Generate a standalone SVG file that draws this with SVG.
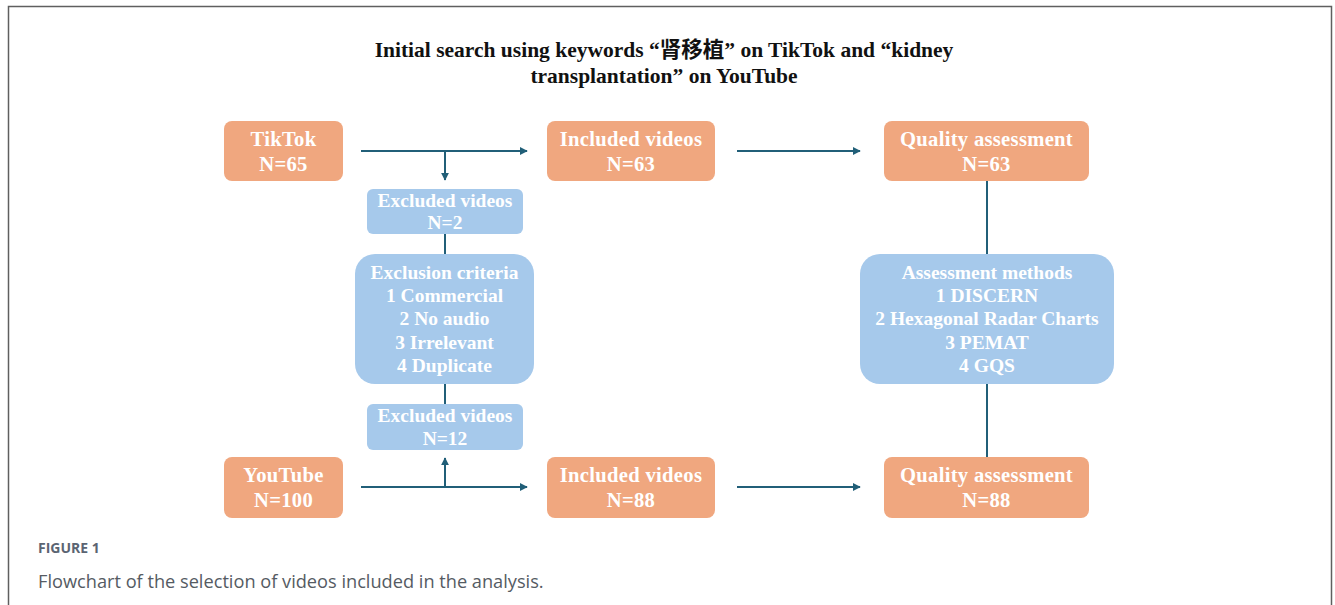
<svg xmlns="http://www.w3.org/2000/svg" width="1335" height="605" viewBox="0 0 1335 605">
  <defs>
    <style>
      .frame { fill: none; stroke: #5f5f5f; stroke-width: 1.5; }
      .src { fill: #f0a77f; }
      .exc { fill: #a6c9eb; }
      .lbl { font-family: "Liberation Serif", "Times New Roman", serif; font-weight: bold; font-size: 20.6px; letter-spacing: 0.3px; fill: #ffffff; text-anchor: middle; }
      .exc-lbl { font-size: 19.5px; letter-spacing: 0; }
      .title { font-family: "Liberation Serif", "Noto Sans CJK SC", serif; font-weight: bold; font-size: 21.5px; fill: #111111; text-anchor: middle; }
      .edge { fill: none; stroke: #215f78; stroke-width: 2; }
      .cap-head { font-family: "Open Sans", "Liberation Sans", sans-serif; font-weight: bold; font-size: 14px; fill: #5b6472; }
      .cap { font-family: "Open Sans", "Liberation Sans", sans-serif; font-size: 18.2px; fill: #555b63; }
    </style>
    <marker id="arrow" viewBox="0 0 10 10" refX="9" refY="5" markerWidth="4" markerHeight="4" orient="auto" markerUnits="strokeWidth">
      <path d="M0,0 L10,5 L0,10 z" fill="#215f78"/>
    </marker>
  </defs>

  <rect width="1335" height="605" fill="#ffffff"/>
  <!-- figure frame (open at the bottom) -->
  <path class="frame" d="M8.5,605 V6.5 H1331.5 V605"/>

  <!-- heading -->
  <g id="title">
    <text class="title" x="664" y="57">Initial search using keywords “肾移植” on TikTok and “kidney</text>
    <text class="title" x="664" y="83">transplantation” on YouTube</text>
  </g>

  <!-- connectors -->
  <g id="connectors">
    <line class="edge" x1="361" y1="151" x2="527" y2="151" marker-end="url(#arrow)"/>
    <line class="edge" x1="445" y1="151" x2="445" y2="180" marker-end="url(#arrow)"/>
    <line class="edge" x1="445" y1="234" x2="445" y2="254"/>
    <line class="edge" x1="445" y1="384" x2="445" y2="404"/>
    <line class="edge" x1="361" y1="487" x2="527" y2="487" marker-end="url(#arrow)"/>
    <line class="edge" x1="445" y1="487" x2="445" y2="458" marker-end="url(#arrow)"/>
    <line class="edge" x1="737" y1="151" x2="860" y2="151" marker-end="url(#arrow)"/>
    <line class="edge" x1="737" y1="487" x2="860" y2="487" marker-end="url(#arrow)"/>
    <line class="edge" x1="987" y1="181" x2="987" y2="254"/>
    <line class="edge" x1="987" y1="384" x2="987" y2="457"/>
  </g>

  <!-- nodes -->
  <g id="tiktok">
    <rect class="src" x="224" y="121" width="119" height="60" rx="8"/>
    <text class="lbl" x="283.5" y="146">TikTok</text>
    <text class="lbl" x="283.5" y="171">N=65</text>
  </g>
  <g id="included-tiktok">
    <rect class="src" x="547" y="121" width="168" height="60" rx="8"/>
    <text class="lbl" x="631" y="146">Included videos</text>
    <text class="lbl" x="631" y="171">N=63</text>
  </g>
  <g id="quality-tiktok">
    <rect class="src" x="884" y="121" width="205" height="60" rx="8"/>
    <text class="lbl" x="986.5" y="146">Quality assessment</text>
    <text class="lbl" x="986.5" y="171">N=63</text>
  </g>
  <g id="excluded-tiktok">
    <rect class="exc" x="367" y="189" width="156" height="45" rx="6"/>
    <text class="lbl exc-lbl" x="445" y="207">Excluded videos</text>
    <text class="lbl exc-lbl" x="445" y="229">N=2</text>
  </g>
  <g id="exclusion-criteria">
    <rect class="exc" x="355" y="254" width="179" height="130" rx="20"/>
    <text class="lbl exc-lbl" x="444.5" y="279">Exclusion criteria</text>
    <text class="lbl exc-lbl" x="444.5" y="302">1 Commercial</text>
    <text class="lbl exc-lbl" x="444.5" y="325">2 No audio</text>
    <text class="lbl exc-lbl" x="444.5" y="349">3 Irrelevant</text>
    <text class="lbl exc-lbl" x="444.5" y="372">4 Duplicate</text>
  </g>
  <g id="excluded-youtube">
    <rect class="exc" x="367" y="404" width="156" height="46" rx="6"/>
    <text class="lbl exc-lbl" x="445" y="422">Excluded videos</text>
    <text class="lbl exc-lbl" x="445" y="445">N=12</text>
  </g>
  <g id="assessment-methods">
    <rect class="exc" x="860" y="254" width="254" height="130" rx="20"/>
    <text class="lbl exc-lbl" x="987" y="279">Assessment methods</text>
    <text class="lbl exc-lbl" x="987" y="302">1 DISCERN</text>
    <text class="lbl exc-lbl" x="987" y="325">2 Hexagonal Radar Charts</text>
    <text class="lbl exc-lbl" x="987" y="349">3 PEMAT</text>
    <text class="lbl exc-lbl" x="987" y="372">4 GQS</text>
  </g>
  <g id="youtube">
    <rect class="src" x="224" y="457" width="119" height="61" rx="8"/>
    <text class="lbl" x="283.5" y="482">YouTube</text>
    <text class="lbl" x="283.5" y="507">N=100</text>
  </g>
  <g id="included-youtube">
    <rect class="src" x="547" y="457" width="168" height="61" rx="8"/>
    <text class="lbl" x="631" y="482">Included videos</text>
    <text class="lbl" x="631" y="507">N=88</text>
  </g>
  <g id="quality-youtube">
    <rect class="src" x="884" y="457" width="205" height="61" rx="8"/>
    <text class="lbl" x="986.5" y="482">Quality assessment</text>
    <text class="lbl" x="986.5" y="507">N=88</text>
  </g>

  <!-- caption -->
  <g id="caption">
    <text class="cap-head" x="38" y="553">FIGURE 1</text>
    <text class="cap" x="38" y="588">Flowchart of the selection of videos included in the analysis.</text>
  </g>
</svg>
